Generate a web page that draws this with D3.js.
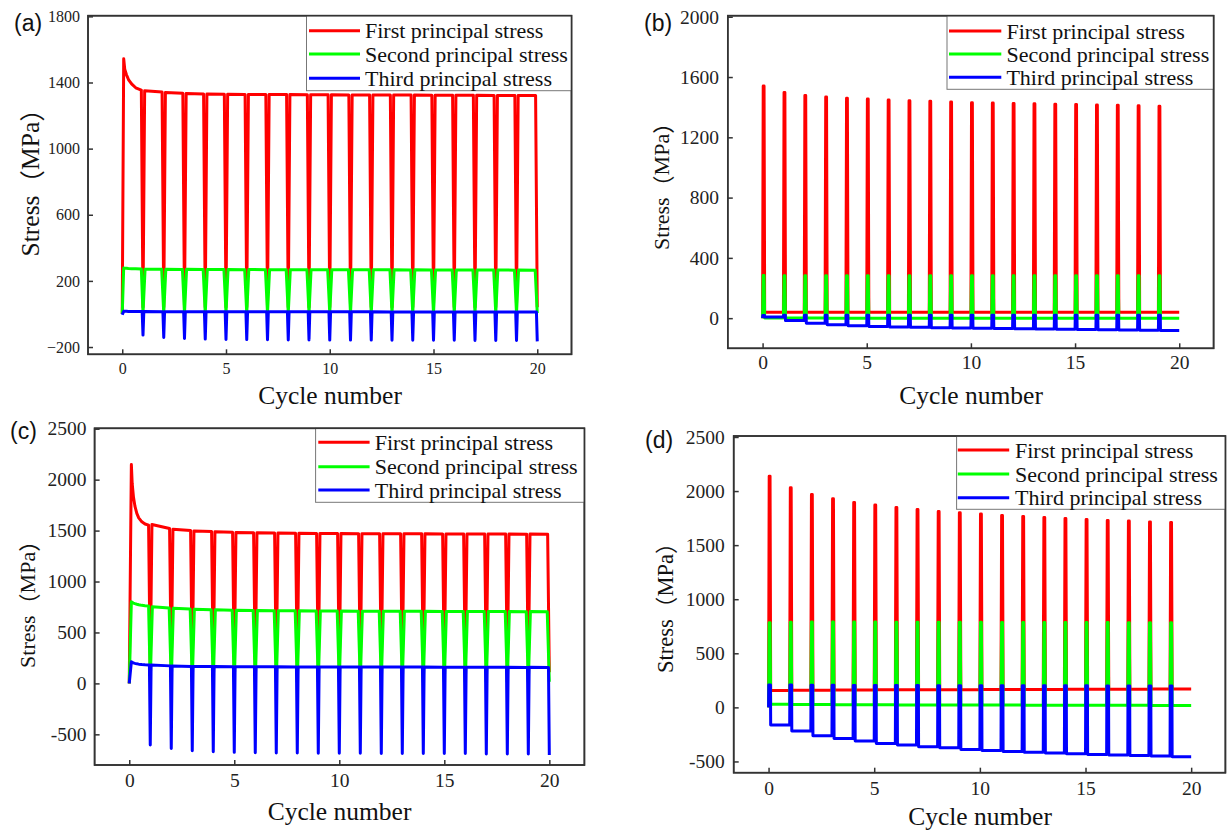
<!DOCTYPE html>
<html>
<head>
<meta charset="utf-8">
<script src="https://cdn.jsdelivr.net/npm/d3@7"></script>
<style>
  html, body { margin: 0; padding: 0; background: #fff; }
  svg { display: block; }
</style>
</head>
<body>
<svg id="fig" width="1228" height="832"></svg>
<script>
// ---------------- shared ----------------
const seriesNames = ["First principal stress", "Second principal stress", "Third principal stress"];
const seriesColors = ["#ff0000", "#00ff00", "#0000ff"];
const xTickValues = [0, 5, 10, 15, 20];

// ---------------- (a) hold at load, brief unloading at each cycle end ----------------
const aYTicks = [-200, 200, 600, 1000, 1400, 1800];
const aStart = [0, 0, -5];                       // values at t = 0
const aFirstT  = [0.07, 0.12, 0.2, 0.3, 0.45, 0.65, 0.92];
const aFirstS1 = [1544, 1480, 1448, 1418, 1392, 1368, 1354];
const aFirstS2 = [278, 277, 276, 275, 274, 273, 272];
const aFirstS3 = [16, 16, 16, 15, 15, 15, 15];
// cycles 1..19, value at start / end of the hold
const aS1HoldStart = [1350, 1340, 1334, 1331, 1329, 1328, 1327, 1327, 1326, 1326, 1325, 1325, 1324, 1324, 1323, 1323, 1323, 1322, 1322];
const aS1HoldEnd   = [1342, 1335, 1331, 1329, 1328, 1327, 1327, 1326, 1326, 1325, 1325, 1324, 1324, 1323, 1323, 1323, 1322, 1322, 1321];
const aS2HoldStart = [271, 270, 270, 269, 269, 269, 268, 268, 268, 268, 267, 267, 267, 267, 266, 266, 266, 266, 266];
const aS2HoldEnd   = [270, 269, 269, 269, 268, 268, 268, 268, 267, 267, 267, 267, 266, 266, 266, 266, 266, 265, 265];
const aS3HoldStart = [15, 14, 14, 14, 14, 13, 13, 13, 13, 13, 13, 13, 12, 12, 12, 12, 12, 12, 12];
const aS3HoldEnd   = [14, 14, 14, 14, 13, 13, 13, 13, 13, 13, 13, 12, 12, 12, 12, 12, 12, 12, 12];
// unloaded value reached at the end of cycles 0..19
const aS1Unload = [40, 40, 40, 40, 40, 40, 40, 40, 40, 40, 40, 40, 40, 40, 40, 40, 40, 40, 40, 40];
const aS2Unload = [5, 5, 5, 5, 5, 5, 5, 5, 5, 5, 5, 5, 5, 5, 5, 5, 5, 5, 5, 5];
const aS3Unload = [-128, -142, -148, -152, -154, -155, -156, -157, -157, -158, -158, -158, -159, -159, -159, -159, -160, -160, -160, -166];

// ---------------- (b) short load peaks, unloaded between ----------------
const bYTicks = [0, 400, 800, 1200, 1600, 2000];
const bS1Peak = [1541, 1497, 1477, 1468, 1459, 1455, 1448, 1443, 1439, 1435, 1430, 1428, 1424, 1422, 1419, 1417, 1415, 1413, 1410, 1406];
const bS1Base = [40, 40, 40, 40, 40, 40, 40, 40, 40, 40, 40, 40, 40, 40, 40, 40, 40, 40, 40, 40];
const bS2Peak = [283, 282, 281, 281, 281, 281, 281, 281, 281, 281, 281, 281, 281, 281, 281, 281, 281, 281, 281, 281];
const bS2Base = [1, 1, 1, 0, 0, 0, 0, 0, 0, 0, 0, 0, 0, 0, 0, 0, 0, 0, 0, 0];
const bS3Top  = [18, 20, 20, 20, 20, 20, 20, 20, 20, 20, 20, 20, 20, 20, 20, 20, 20, 20, 20, 20];
const bS3Low  = [8, -16, -33, -44, -51, -55, -58, -61, -63, -65, -67, -69, -71, -72, -74, -75, -77, -78, -80, -82];

// ---------------- (c) hold at load, brief unloading at each cycle end ----------------
const cYTicks = [-500, 0, 500, 1000, 1500, 2000, 2500];
const cStart = [0, 0, 0];
const cFirstT  = [0.1, 0.14, 0.2, 0.27, 0.36, 0.45, 0.6, 0.75, 0.92];
const cFirstS1 = [2149, 1960, 1831, 1740, 1668, 1625, 1586, 1565, 1553];
const cFirstS2 = [801, 795, 789, 783, 777, 772, 766, 762, 759];
const cFirstS3 = [212, 207, 202, 197, 192, 189, 185, 182, 180];
const cS1HoldStart = [1560, 1514, 1497, 1488, 1482, 1478, 1476, 1474, 1472, 1471, 1470, 1469, 1468, 1468, 1467, 1467, 1466, 1466, 1466];
const cS1HoldEnd   = [1521, 1502, 1491, 1484, 1479, 1476, 1474, 1472, 1471, 1470, 1469, 1468, 1468, 1467, 1467, 1466, 1466, 1465, 1465];
const cS2HoldStart = [752, 738, 728, 722, 718, 715, 713, 712, 711, 710, 709, 708, 707, 707, 706, 706, 705, 705, 705];
const cS2HoldEnd   = [740, 730, 723, 719, 716, 714, 712, 711, 710, 709, 708, 707, 707, 706, 706, 705, 705, 704, 704];
const cS3HoldStart = [180, 170, 167, 165, 164, 163, 163, 162, 162, 161, 161, 160, 160, 160, 159, 159, 158, 158, 158];
const cS3HoldEnd   = [172, 167, 165, 164, 163, 163, 162, 162, 161, 161, 160, 160, 160, 159, 159, 158, 158, 157, 157];
const cS1Unload = [110, 110, 110, 110, 110, 110, 110, 110, 110, 110, 110, 110, 110, 110, 110, 110, 110, 110, 110, 110];
const cS2Unload = [16, 16, 16, 16, 16, 16, 16, 16, 16, 16, 16, 16, 16, 16, 16, 16, 16, 16, 16, 16];
const cS3Unload = [-605, -638, -661, -671, -677, -680, -683, -683, -686, -686, -686, -689, -689, -689, -689, -689, -692, -692, -692, -703];

// ---------------- (d) short load peaks, unloaded between ----------------
const dYTicks = [-500, 0, 500, 1000, 1500, 2000, 2500];
const dS1Peak = [2138, 2030, 1969, 1928, 1894, 1870, 1848, 1830, 1811, 1799, 1787, 1775, 1765, 1756, 1747, 1737, 1728, 1722, 1715, 1710];
const dS1Base = [157, 158, 159, 160, 161, 162, 163, 163, 164, 164, 165, 165, 166, 166, 167, 167, 168, 168, 169, 169];
const dS2Peak = [782, 788, 790, 790, 789, 789, 788, 787, 787, 786, 786, 785, 785, 785, 784, 784, 784, 783, 783, 783];
const dS2Base = [28, 27, 26, 25, 24, 24, 23, 23, 22, 22, 21, 21, 20, 20, 20, 19, 19, 19, 18, 18];
const dS3Top  = [206, 206, 204, 204, 203, 203, 202, 202, 201, 201, 200, 200, 200, 199, 199, 199, 198, 198, 198, 197];
const dS3Low  = [-163, -219, -262, -287, -311, -333, -348, -364, -373, -389, -398, -407, -416, -422, -429, -435, -441, -444, -450, -456];

// ---------------- series builders ----------------
// Hold-type history: load ramp, hold, then a short unloading dip at every integer cycle.
function holdSeries(start, firstT, firstV, holdStart, holdEnd, unload, ramp) {
  const pts = [[0, start]];
  firstT.forEach((t, i) => pts.push([t, firstV[i]]));
  const lastT = firstT[firstT.length - 1];
  if (1 - ramp > lastT + 0.001) pts.push([1 - ramp, firstV[firstV.length - 1]]);
  pts.push([1, unload[0]]);
  for (let n = 1; n < 20; n++) {
    pts.push([n + ramp, holdStart[n - 1]]);
    pts.push([n + 1 - ramp, holdEnd[n - 1]]);
    pts.push([n + 1, unload[n]]);
  }
  return pts;
}
// Peak-type history: short load peak at the start of every cycle, unloaded the rest.
// rise / topEnd / fall are the time offsets (in cycles) of the peak's corners.
function peakSeries(peak, base, rise, topEnd, fall) {
  const pts = [[0, 0]];
  for (let n = 0; n < 20; n++) {
    pts.push([n + rise, peak[n]]);
    if (topEnd > rise) pts.push([n + topEnd, peak[n]]);
    pts.push([n + fall, base[n]]);
    pts.push([n + 1, base[n]]);
  }
  return pts;
}

const serifLatin = '"Liberation Serif", "Times New Roman", serif';
const cjk = '"Noto Sans CJK SC", "Noto Sans CJK JP", sans-serif';
const sans = '"Liberation Sans", Arial, sans-serif';

const panels = [
  {
    id: "a", tag: "(a)", tagPos: [14, 31],
    box: { x0: 88, x1: 571.5, y0: 15.7, y1: 354.3 },
    xDom: [-1.65, 21.65], yDom: [-244, 1804], yTicks: aYTicks,
    yFormat: d3.format("d"),
    tickFs: 16, xPad: 8.6, yPad: 8,
    xTitle: [330, 395], yTitle: [29.5, 184], yTitleLen: 145,
    legend: { x0: 306.5, y0: 15.7, x1: 571.5, y1: 90.7, l0: 309, l1: 360, tx: 365, rows: [30.7, 54, 78.3] },
    series: [
      holdSeries(aStart[0], aFirstT, aFirstS1, aS1HoldStart, aS1HoldEnd, aS1Unload, 0.08),
      holdSeries(aStart[1], aFirstT, aFirstS2, aS2HoldStart, aS2HoldEnd, aS2Unload, 0.1),
      holdSeries(aStart[2], aFirstT, aFirstS3, aS3HoldStart, aS3HoldEnd, aS3Unload, 0.04)
    ]
  },
  {
    id: "b", tag: "(b)", tagPos: [644, 31],
    box: { x0: 727.8, x1: 1213.6, y0: 15.7, y1: 348.3 },
    xDom: [-1.67, 21.65], yDom: [-200, 2007], yTicks: bYTicks,
    yFormat: d => String(d),
    tickFs: 19.5, xPad: 7.3, yPad: 8.8,
    xTitle: [971, 395], yTitle: [661.4, 187.5], yTitleLen: 125,
    legend: { x0: 947, y0: 15.7, x1: 1213.6, y1: 89.3, l0: 949, l1: 1001.3, tx: 1006.4, rows: [31, 54, 77.3] },
    series: [
      peakSeries(bS1Peak, bS1Base, 0.03, 0.07, 0.1),
      peakSeries(bS2Peak, bS2Base, 0.03, 0.07, 0.1),
      peakSeries(bS3Top, bS3Low, 0.01, 0.09, 0.1)
    ]
  },
  {
    id: "c", tag: "(c)", tagPos: [10, 439],
    box: { x0: 94.6, x1: 584.4, y0: 428.3, y1: 765 },
    xDom: [-1.65, 21.67], yDom: [-801, 2504], yTicks: cYTicks,
    yFormat: d => String(d),
    tickFs: 19.5, xPad: 8.3, yPad: 8.2,
    xTitle: [339.5, 811.7], yTitle: [27.2, 605.5], yTitleLen: 125,
    legend: { x0: 315.6, y0: 428.3, x1: 584.4, y1: 502.3, l0: 318.3, l1: 369.6, tx: 374.7, rows: [442.3, 466.7, 490] },
    series: [
      holdSeries(cStart[0], cFirstT, cFirstS1, cS1HoldStart, cS1HoldEnd, cS1Unload, 0.08),
      holdSeries(cStart[1], cFirstT, cFirstS2, cS2HoldStart, cS2HoldEnd, cS2Unload, 0.1),
      holdSeries(cStart[2], cFirstT, cFirstS3, cS3HoldStart, cS3HoldEnd, cS3Unload, 0.04)
    ]
  },
  {
    id: "d", tag: "(d)", tagPos: [645, 448],
    box: { x0: 733.7, x1: 1225.4, y0: 436, y1: 772.7 },
    xDom: [-1.65, 21.62], yDom: [-604, 2509], yTicks: dYTicks,
    yFormat: d => String(d),
    tickFs: 19.5, xPad: 8.2, yPad: 9,
    xTitle: [980, 816], yTitle: [665.3, 609], yTitleLen: 128,
    legend: { x0: 956.6, y0: 436, x1: 1225.4, y1: 509.3, l0: 957.8, l1: 1009.2, tx: 1015, rows: [450, 474, 497.7] },
    series: [
      peakSeries(dS1Peak, dS1Base, 0.03, 0.07, 0.1),
      peakSeries(dS2Peak, dS2Base, 0.03, 0.07, 0.1),
      peakSeries(dS3Top, dS3Low, 0.01, 0.09, 0.1)
    ]
  }
];

const svg = d3.select("#fig");
const defs = svg.append("defs");

function drawPanel(p) {
  const g = svg.append("g").attr("class", "panel-" + p.id);
  const b = p.box;
  const x = d3.scaleLinear().domain(p.xDom).range([b.x0, b.x1]);
  const y = d3.scaleLinear().domain(p.yDom).range([b.y1, b.y0]);

  const clipId = "clip-" + p.id;
  defs.append("clipPath").attr("id", clipId)
    .append("rect").attr("x", b.x0).attr("y", b.y0)
    .attr("width", b.x1 - b.x0).attr("height", b.y1 - b.y0);

  // stress histories
  const line = d3.line().x(d => x(d[0])).y(d => y(d[1]));
  p.series.forEach((pts, i) => {
    g.append("path")
      .attr("d", line(pts))
      .attr("fill", "none")
      .attr("stroke", seriesColors[i])
      .attr("stroke-width", 3)
      .attr("stroke-linejoin", "round")
      .attr("clip-path", `url(#${clipId})`);
  });

  // axes with inward ticks
  const gx = g.append("g")
    .attr("transform", `translate(0,${b.y1})`)
    .call(d3.axisBottom(x).tickValues(xTickValues).tickSizeInner(-5).tickSizeOuter(0)
      .tickPadding(p.xPad).tickFormat(d3.format("d")));
  const gy = g.append("g")
    .attr("transform", `translate(${b.x0},0)`)
    .call(d3.axisLeft(y).tickValues(p.yTicks).tickSizeInner(-5).tickSizeOuter(0)
      .tickPadding(p.yPad).tickFormat(p.yFormat));
  [gx, gy].forEach(ax => {
    ax.select(".domain").remove();
    ax.selectAll(".tick line").attr("stroke", "#333").attr("stroke-width", 1.5);
    ax.selectAll(".tick text")
      .attr("fill", "#222")
      .style("font-family", serifLatin)
      .style("font-size", p.tickFs + "px");
  });

  // frame
  g.append("rect")
    .attr("x", b.x0).attr("y", b.y0)
    .attr("width", b.x1 - b.x0).attr("height", b.y1 - b.y0)
    .attr("fill", "none").attr("stroke", "#333").attr("stroke-width", 1.6);

  // axis titles
  g.append("text")
    .attr("x", p.xTitle[0]).attr("y", p.xTitle[1])
    .attr("text-anchor", "middle").attr("dominant-baseline", "central")
    .style("font-family", serifLatin).style("font-size", "25.5px").attr("fill", "#111")
    .text("Cycle number");
  const yt = g.append("text")
    .attr("transform", `translate(${p.yTitle[0]},${p.yTitle[1]}) rotate(-90)`)
    .attr("text-anchor", "middle").attr("dominant-baseline", "central")
    .style("font-size", "20px").attr("fill", "#111");
  [["Stress", serifLatin], ["（", cjk], ["MPa", serifLatin], ["）", cjk]].forEach(([s, f]) => {
    yt.append("tspan").style("font-family", f).text(s);
  });
  // size the rotated title so that its inked part spans the wanted length;
  // the closing full-width bracket carries about 0.6em of empty advance
  const len20 = yt.node().getComputedTextLength();
  if (len20 > 0) {
    const fs = p.yTitleLen / (len20 / 20 - 0.6);
    yt.style("font-size", fs.toFixed(2) + "px").attr("x", (0.3 * fs).toFixed(2));
  }

  // panel tag
  g.append("text")
    .attr("x", p.tagPos[0]).attr("y", p.tagPos[1])
    .style("font-family", sans).style("font-size", "23px").attr("fill", "#111")
    .text(p.tag);

  // legend
  const L = p.legend;
  g.append("rect")
    .attr("x", L.x0).attr("y", L.y0)
    .attr("width", L.x1 - L.x0).attr("height", L.y1 - L.y0)
    .attr("fill", "#fff").attr("stroke", "#777").attr("stroke-width", 1);
  seriesNames.forEach((name, i) => {
    g.append("line")
      .attr("x1", L.l0).attr("x2", L.l1)
      .attr("y1", L.rows[i]).attr("y2", L.rows[i])
      .attr("stroke", seriesColors[i]).attr("stroke-width", 3);
    g.append("text")
      .attr("x", L.tx).attr("y", L.rows[i])
      .attr("dominant-baseline", "central")
      .style("font-family", serifLatin).style("font-size", "22px").attr("fill", "#111")
      .text(name);
  });
  // frame edge under the legend border
  g.append("rect")
    .attr("x", b.x0).attr("y", b.y0)
    .attr("width", b.x1 - b.x0).attr("height", b.y1 - b.y0)
    .attr("fill", "none").attr("stroke", "#333").attr("stroke-width", 1.6);
}

panels.forEach(drawPanel);
</script>
</body>
</html>
